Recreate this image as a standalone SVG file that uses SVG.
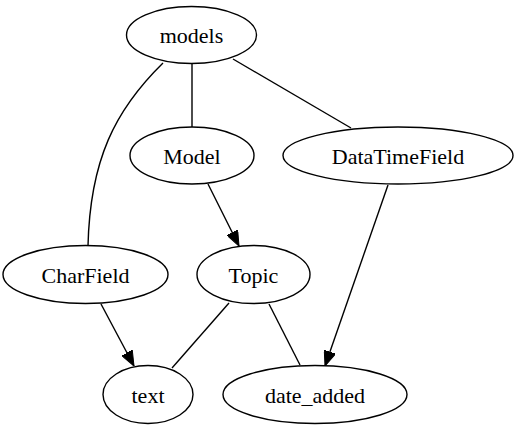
<svg xmlns="http://www.w3.org/2000/svg" width="516" height="433" viewBox="0 0 516 433">
<style>
.n ellipse{fill:#fff;stroke:#000;stroke-width:1.4}
.n text{font-family:"Liberation Serif","Times New Roman",serif;font-size:22px;text-anchor:middle;fill:#000}
.e path{fill:none;stroke:#000;stroke-width:1.4}
</style>
<defs>
<marker id="ah" viewBox="0 0 15 12" refX="15" refY="6" markerWidth="15" markerHeight="12" markerUnits="userSpaceOnUse" orient="auto">
<path d="M0,0 L15,6 L0,12 z" fill="#000" stroke="#000" stroke-width="1"/>
</marker>
</defs>
<rect width="516" height="433" fill="#fff"/>
<g id="edges" class="e">
<path d="M192,63 L192,127"/>
<path d="M233,59 L351,128"/>
<path d="M163,63 C115,110 90,160 88,246"/>
<path d="M208,184 L239,246" marker-end="url(#ah)"/>
<path d="M388,185 L325,366" marker-end="url(#ah)"/>
<path d="M101,304 L134,366" marker-end="url(#ah)"/>
<path d="M229,303 L172,368"/>
<path d="M269,304 L300,365"/>
</g>
<g id="models" class="n"><ellipse cx="191.5" cy="35" rx="65" ry="28.5"/><text x="191.5" y="43">models</text></g>
<g id="Model" class="n"><ellipse cx="192" cy="155.5" rx="62" ry="28.5"/><text x="192" y="163.5">Model</text></g>
<g id="DataTimeField" class="n"><ellipse cx="398" cy="155.5" rx="115" ry="28.5"/><text x="398" y="163.5">DataTimeField</text></g>
<g id="CharField" class="n"><ellipse cx="85.5" cy="274.5" rx="82.5" ry="29"/><text x="85.5" y="282.5">CharField</text></g>
<g id="Topic" class="n"><ellipse cx="253.5" cy="274.5" rx="56.5" ry="29"/><text x="253.5" y="282.5">Topic</text></g>
<g id="text" class="n"><ellipse cx="148" cy="394.5" rx="45" ry="29"/><text x="148" y="402.5">text</text></g>
<g id="date_added" class="n"><ellipse cx="315" cy="394.5" rx="92" ry="29"/><text x="315" y="402.5">date_added</text></g>
</svg>
